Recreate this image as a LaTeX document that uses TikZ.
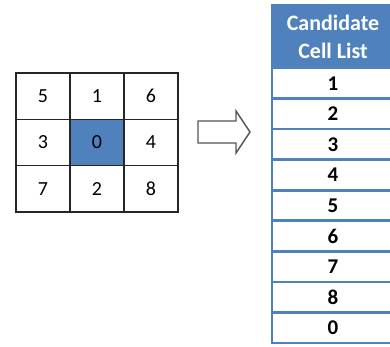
\documentclass[tikz,border=0pt]{standalone}
\usepackage{fontspec}
\setmainfont{Carlito}
\definecolor{hdrblue}{HTML}{4F81BD}
\definecolor{gridline}{HTML}{262626}
\definecolor{arrowgray}{HTML}{555555}
\tikzset{
  cell/.style={draw=gridline, line width=1.3pt, minimum width=54pt, minimum height=46.33pt, inner sep=0pt, font=\fontsize{20}{24}\selectfont, text=black},
  centercell/.style={cell, fill=hdrblue},
  listrow/.style={draw=hdrblue, line width=2.6pt, fill=white, minimum width=122pt, minimum height=30.55pt, inner sep=0pt, font=\fontsize{21}{24}\selectfont\bfseries, text=black},
  listhdr/.style={draw=hdrblue, line width=2.6pt, fill=hdrblue, minimum width=122pt, minimum height=63pt, inner sep=0pt, align=center, text=white, font=\fontsize{22}{28}\selectfont\bfseries},
  blockarrow/.style={draw=arrowgray, line width=1.4pt, fill=white, line join=miter}
}
\begin{document}
\begin{tikzpicture}[x=1pt,y=-1pt]
\useasboundingbox (0,0) rectangle (390,347);
\clip (0,0) rectangle (390,347);
% grid
\node[cell] (c5) at (43,96.2) {5};
\node[cell] (c1) at (97,96.2) {1};
\node[cell] (c6) at (151,96.2) {6};
\node[cell] (c3) at (43,142.5) {3};
\node[centercell] (c0) at (97,142.5) {0};
\node[cell] (c4) at (151,142.5) {4};
\node[cell] (c7) at (43,188.8) {7};
\node[cell] (c2) at (97,188.8) {2};
\node[cell] (c8) at (151,188.8) {8};
% arrow
\draw[blockarrow] (198,121) -- (236,121) -- (236,111) -- (250,132) -- (236,153) -- (236,143) -- (198,143) -- cycle;
% list
\node[listhdr] (hdr) at (333,36.5) {Candidate\\Cell List};
\node[listrow] (r1) at (333,83.3) {1};
\node[listrow] (r2) at (333,113.8) {2};
\node[listrow] (r3) at (333,144.4) {3};
\node[listrow] (r4) at (333,174.9) {4};
\node[listrow] (r5) at (333,205.5) {5};
\node[listrow] (r6) at (333,236.0) {6};
\node[listrow] (r7) at (333,266.6) {7};
\node[listrow] (r8) at (333,297.1) {8};
\node[listrow] (r0) at (333,327.7) {0};
\end{tikzpicture}
\end{document}
